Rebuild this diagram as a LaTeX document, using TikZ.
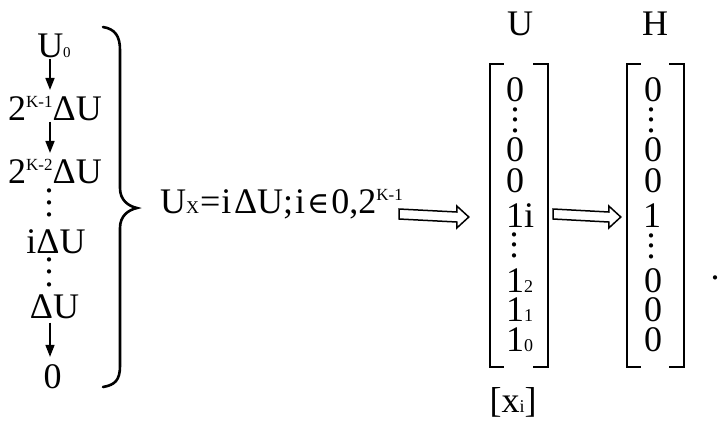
\documentclass[tikz,border=0pt]{standalone}
\usepackage{fontspec}
\setmainfont{Liberation Serif}
\newfontfamily\symf{DejaVu Serif}
\usetikzlibrary{calc,arrows.meta}
\newcommand\bigfs{\fontsize{36}{40}\selectfont}
\newcommand\smfs{\fontsize{17}{18}\selectfont}
\newcommand\subt[1]{{\fontsize{15}{16}\selectfont #1}}
\newcommand\subx[1]{{\fontsize{18}{19}\selectfont #1}}
\newcommand\subm[1]{{\fontsize{18}{19}\selectfont #1}}
\newcommand\supk[1]{\raisebox{12.5pt}{\smfs #1}}
\newcommand\vdts[1]{\vbox{\baselineskip=#1\lineskiplimit=-20pt\hbox{.}\hbox{.}\hbox{.}}}
\newcommand\hollowarr[2]{%
  \draw[hollow] ($(#1)+(0,5)$) -- ($(#2)+(-12,5)$) -- ($(#2)+(-12,11)$) -- (#2)
    -- ($(#2)+(-12,-11)$) -- ($(#2)+(-12,-5)$) -- ($(#1)+(0,-5)$) -- cycle;}
\tikzset{
  txt/.style={inner sep=0pt, font=\bigfs},
  dts/.style={inner sep=0pt, font=\bigfs, anchor=south},
  darr/.style={line width=1.6pt, -{Triangle[length=12pt,width=9pt]}},
  brk/.style={line width=2.5pt, line cap=butt, line join=miter},
  brace/.style={line width=2.6pt, line cap=round},
  hollow/.style={line width=1.5pt, line join=miter, fill=white},
  mbox/.style={inner sep=0pt, minimum height=303pt}
}
\begin{document}
\begin{tikzpicture}[x=1pt,y=-1pt]
\useasboundingbox (0,0) rectangle (719,424);
% left column
\coordinate (ax) at (50,0);
\node[txt,anchor=base] (u0) at (54,57) {U\subt{0}};
\node[txt,anchor=base] (k1) at (55,120) {2\supk{K-1}ΔU};
\node[txt,anchor=base] (k2) at (55,183) {2\supk{K-2}ΔU};
\node[dts] (d1) at (49,217) {\vdts{12pt}};
\node[txt,anchor=base] (iu) at (56,253) {iΔU};
\node[dts] (d2) at (49,287) {\vdts{12.5pt}};
\node[txt,anchor=base] (du) at (54.5,318) {ΔU};
\node[txt,anchor=base] (z) at (52.5,388) {0};
\draw[darr,shorten <=1pt,shorten >=6pt] (u0.south -| ax) -- (k1.north -| ax);
\draw[darr,shorten <=1pt,shorten >=6pt] (k1.south -| ax) -- (k2.north -| ax);
\draw[darr,shorten <=4pt,shorten >=7pt] (du.south -| ax) -- (z.north -| ax);
% brace
\draw[brace] (103,27) .. controls (115,29) and (120,36) .. (120,50) -- (120,188)
  .. controls (120,200) and (128,206) .. (137,208)
  .. controls (128,210) and (120,216) .. (120,228) -- (120,366)
  .. controls (120,380) and (115,385) .. (103,387);
% formula
\node[txt,anchor=base west] (ux) at (160,213) {U\subx{X}\kern1pt=\kern1pt i\kern2.5ptΔU;\kern2pt i\kern2pt{\symf\fontsize{30}{32}\selectfont ∈}\kern2pt 0,2\supk{K-1}};
% matrices
\node[mbox, minimum width=58pt] (mU) at (519,215.5) {};
\node[mbox, minimum width=57pt] (mH) at (655.5,215.5) {};
\foreach \m in {mU,mH}{
  \draw[brk] ([xshift=14pt]\m.north west) -- (\m.north west) -- (\m.south west) -- ([xshift=14pt]\m.south west);
  \draw[brk] ([xshift=-15pt]\m.north east) -- (\m.north east) -- (\m.south east) -- ([xshift=-15pt]\m.south east);
}
\node[txt,anchor=base] (lU) at (520,35) {U};
\node[txt,anchor=base] (lH) at (655,35) {H};
\node[txt,anchor=base] (xi) at (513,412) {[x\subm{i}]};
% U entries
\node[txt,anchor=base west] (u1) at (506,101) {0};
\node[dts] (u2) at (515,133) {\vdts{10.5pt}};
\node[txt,anchor=base west] (u3) at (506,161) {0};
\node[txt,anchor=base west] (u4) at (506,192) {0};
\node[txt,anchor=base west] (u5) at (506,227) {1i};
\node[dts] (u6) at (514,258) {\vdts{10.5pt}};
\node[txt,anchor=base west] (u7) at (506,292) {1\subm{2}};
\node[txt,anchor=base west] (u8) at (506,321) {1\subm{1}};
\node[txt,anchor=base west] (u9) at (506,351) {1\subm{0}};
% H entries
\node[txt,anchor=base] (h1) at (653,101) {0};
\node[dts] (h2) at (651,133) {\vdts{10.5pt}};
\node[txt,anchor=base] (h3) at (653,161) {0};
\node[txt,anchor=base] (h4) at (653,192) {0};
\node[txt,anchor=base] (h5) at (652,227) {1};
\node[dts] (h6) at (651,259) {\vdts{10.5pt}};
\node[txt,anchor=base] (h7) at (653,292) {0};
\node[txt,anchor=base] (h8) at (653,321) {0};
\node[txt,anchor=base] (h9) at (653,351) {0};
% hollow arrows
\coordinate (a1s) at (399,214);
\path (mU.west) ++(-21pt,-1.5pt) coordinate (a1e);
\coordinate (a2s) at (553,214);
\path (mH.west) ++(-6pt,-1.5pt) coordinate (a2e);
\hollowarr{a1s}{a1e}
\hollowarr{a2s}{a2e}
% period
\node[txt,anchor=base] (pd) at (715,279) {.};
\end{tikzpicture}
\end{document}
